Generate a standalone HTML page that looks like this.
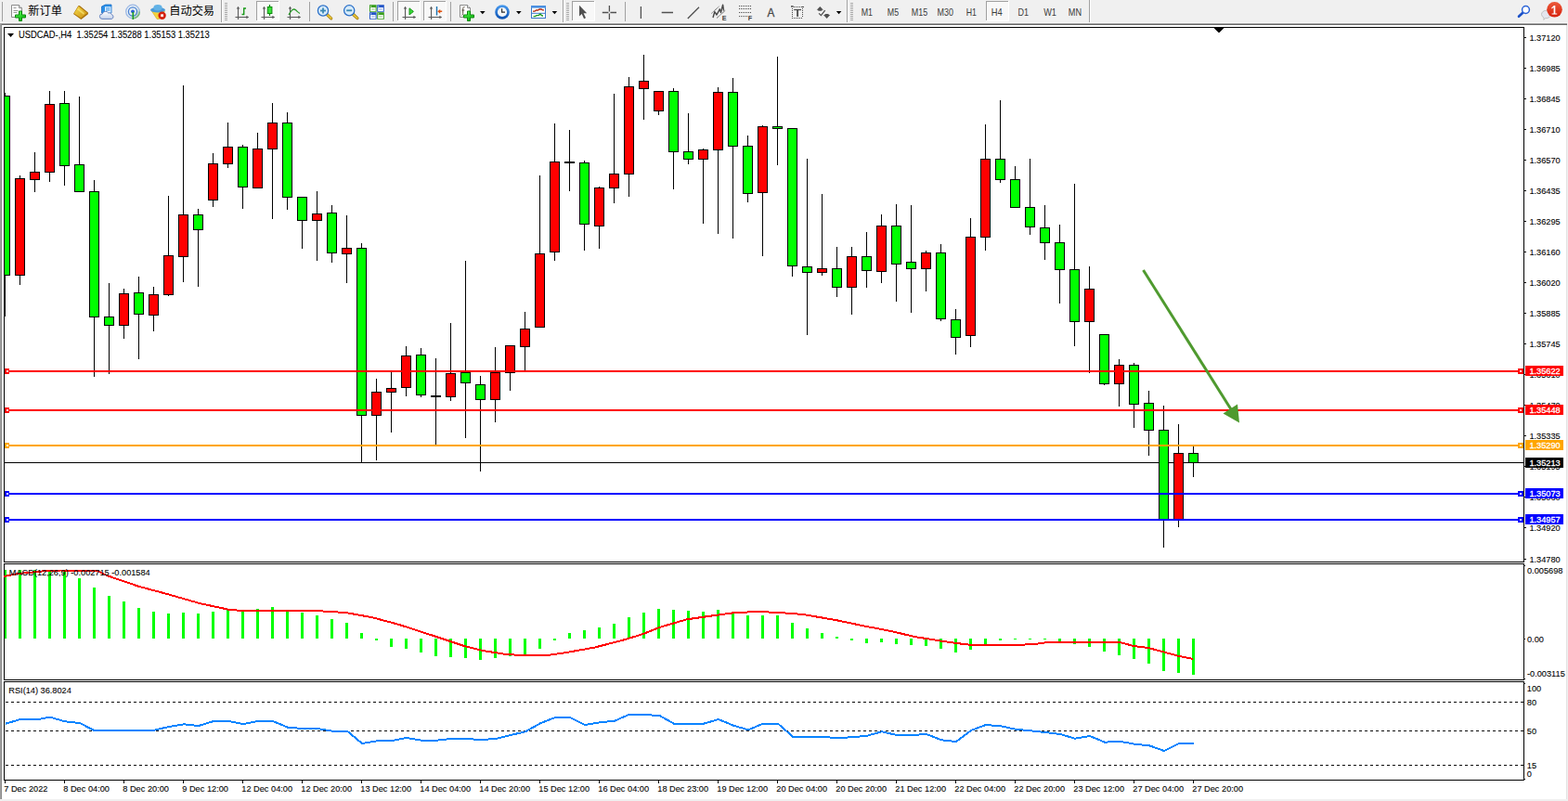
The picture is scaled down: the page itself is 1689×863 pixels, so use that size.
<!DOCTYPE html><html><head><meta charset="utf-8"><title>USDCAD-,H4</title><style>
html,body{margin:0;padding:0;background:#fff;}
body{width:1689px;height:863px;position:relative;overflow:hidden;font-family:"Liberation Sans",sans-serif;}
svg{position:absolute;left:0;top:0;}
text{font-family:"Liberation Sans",sans-serif;}
.t{font-size:9.8px;fill:#000;stroke:#000;stroke-width:.1px;}
.w{font-size:9.8px;fill:#fff;stroke:#fff;stroke-width:.3px;}
.p{font-size:10.2px;fill:#3c3c3c;}
.cj{font-family:"Liberation Sans","Noto Sans CJK SC",sans-serif;font-size:12.2px;fill:#000;}
</style></head><body>
<svg width="1689" height="863" viewBox="0 0 1689 863" shape-rendering="crispEdges">
<rect x="0" y="0" width="1689" height="24" fill="#f0f0f0"/>
<rect x="0" y="24" width="1689" height="1" fill="#f7f7f7"/>
<rect x="0" y="25" width="1689" height="1" fill="#a0a0a0"/>
<rect x="0" y="26" width="1689" height="1" fill="#696969"/>
<rect x="0" y="25" width="2" height="836" fill="#a0a0a0"/>
<rect x="1" y="26" width="1" height="835" fill="#8a8a8a"/>
<rect x="1687" y="27" width="1" height="836" fill="#e3e3e3"/>
<rect x="1688" y="25" width="1" height="838" fill="#f0f0f0"/>
<rect x="0" y="861" width="1689" height="2" fill="#f0f0f0"/>
<rect x="4" y="29" width="1638" height="1" fill="#000"/>
<rect x="4" y="29" width="1" height="577" fill="#000"/>
<rect x="4" y="605" width="1638" height="1" fill="#000"/>
<rect x="1641" y="29" width="1" height="577" fill="#000"/>
<rect x="4" y="607" width="1638" height="1" fill="#000"/>
<rect x="4" y="607" width="1" height="126" fill="#000"/>
<rect x="4" y="732" width="1638" height="1" fill="#000"/>
<rect x="1641" y="607" width="1" height="126" fill="#000"/>
<rect x="4" y="734" width="1638" height="1" fill="#000"/>
<rect x="4" y="734" width="1" height="107" fill="#000"/>
<rect x="4" y="840" width="1638" height="1" fill="#000"/>
<rect x="1641" y="734" width="1" height="107" fill="#000"/>
<rect x="5" y="498" width="1636" height="1" fill="#000"/>
<rect x="1308" y="30" width="10" height="1" fill="#000"/>
<rect x="1309" y="31" width="8" height="1" fill="#000"/>
<rect x="1310" y="32" width="6" height="1" fill="#000"/>
<rect x="1311" y="33" width="4" height="1" fill="#000"/>
<rect x="1312" y="34" width="2" height="1" fill="#000"/>
<rect x="1313" y="35" width="0" height="1" fill="#000"/>
<rect x="5" y="100" width="1" height="241" fill="#000"/>
<rect x="5" y="103" width="6" height="194" fill="#000"/>
<rect x="5" y="104" width="5" height="192" fill="#00ff00"/>
<rect x="21" y="189" width="1" height="118" fill="#000"/>
<rect x="16" y="192" width="11" height="105" fill="#000"/>
<rect x="17" y="193" width="9" height="103" fill="#ff0000"/>
<rect x="37" y="164" width="1" height="43" fill="#000"/>
<rect x="32" y="185" width="11" height="9" fill="#000"/>
<rect x="33" y="186" width="9" height="7" fill="#ff0000"/>
<rect x="53" y="98" width="1" height="98" fill="#000"/>
<rect x="48" y="112" width="11" height="74" fill="#000"/>
<rect x="49" y="113" width="9" height="72" fill="#ff0000"/>
<rect x="69" y="98" width="1" height="102" fill="#000"/>
<rect x="64" y="111" width="11" height="68" fill="#000"/>
<rect x="65" y="112" width="9" height="66" fill="#00ff00"/>
<rect x="85" y="104" width="1" height="103" fill="#000"/>
<rect x="80" y="177" width="11" height="30" fill="#000"/>
<rect x="81" y="178" width="9" height="28" fill="#00ff00"/>
<rect x="101" y="194" width="1" height="212" fill="#000"/>
<rect x="96" y="206" width="11" height="136" fill="#000"/>
<rect x="97" y="207" width="9" height="134" fill="#00ff00"/>
<rect x="117" y="305" width="1" height="98" fill="#000"/>
<rect x="112" y="341" width="11" height="10" fill="#000"/>
<rect x="113" y="342" width="9" height="8" fill="#00ff00"/>
<rect x="133" y="311" width="1" height="54" fill="#000"/>
<rect x="128" y="316" width="11" height="35" fill="#000"/>
<rect x="129" y="317" width="9" height="33" fill="#ff0000"/>
<rect x="149" y="298" width="1" height="89" fill="#000"/>
<rect x="144" y="315" width="11" height="24" fill="#000"/>
<rect x="145" y="316" width="9" height="22" fill="#00ff00"/>
<rect x="165" y="309" width="1" height="48" fill="#000"/>
<rect x="160" y="317" width="11" height="23" fill="#000"/>
<rect x="161" y="318" width="9" height="21" fill="#ff0000"/>
<rect x="181" y="211" width="1" height="108" fill="#000"/>
<rect x="176" y="275" width="11" height="43" fill="#000"/>
<rect x="177" y="276" width="9" height="41" fill="#ff0000"/>
<rect x="197" y="92" width="1" height="212" fill="#000"/>
<rect x="192" y="231" width="11" height="46" fill="#000"/>
<rect x="193" y="232" width="9" height="44" fill="#ff0000"/>
<rect x="213" y="225" width="1" height="84" fill="#000"/>
<rect x="208" y="231" width="11" height="17" fill="#000"/>
<rect x="209" y="232" width="9" height="15" fill="#00ff00"/>
<rect x="229" y="165" width="1" height="58" fill="#000"/>
<rect x="224" y="176" width="11" height="40" fill="#000"/>
<rect x="225" y="177" width="9" height="38" fill="#ff0000"/>
<rect x="245" y="132" width="1" height="49" fill="#000"/>
<rect x="240" y="158" width="11" height="19" fill="#000"/>
<rect x="241" y="159" width="9" height="17" fill="#ff0000"/>
<rect x="261" y="156" width="1" height="69" fill="#000"/>
<rect x="256" y="158" width="11" height="44" fill="#000"/>
<rect x="257" y="159" width="9" height="42" fill="#00ff00"/>
<rect x="277" y="143" width="1" height="60" fill="#000"/>
<rect x="272" y="160" width="11" height="43" fill="#000"/>
<rect x="273" y="161" width="9" height="41" fill="#ff0000"/>
<rect x="293" y="111" width="1" height="125" fill="#000"/>
<rect x="288" y="132" width="11" height="29" fill="#000"/>
<rect x="289" y="133" width="9" height="27" fill="#ff0000"/>
<rect x="309" y="121" width="1" height="105" fill="#000"/>
<rect x="304" y="132" width="11" height="81" fill="#000"/>
<rect x="305" y="133" width="9" height="79" fill="#00ff00"/>
<rect x="325" y="212" width="1" height="56" fill="#000"/>
<rect x="320" y="212" width="11" height="26" fill="#000"/>
<rect x="321" y="213" width="9" height="24" fill="#00ff00"/>
<rect x="341" y="206" width="1" height="75" fill="#000"/>
<rect x="336" y="230" width="11" height="8" fill="#000"/>
<rect x="337" y="231" width="9" height="6" fill="#ff0000"/>
<rect x="357" y="221" width="1" height="62" fill="#000"/>
<rect x="352" y="229" width="11" height="44" fill="#000"/>
<rect x="353" y="230" width="9" height="42" fill="#00ff00"/>
<rect x="373" y="232" width="1" height="73" fill="#000"/>
<rect x="368" y="267" width="11" height="7" fill="#000"/>
<rect x="369" y="268" width="9" height="5" fill="#ff0000"/>
<rect x="389" y="262" width="1" height="237" fill="#000"/>
<rect x="384" y="267" width="11" height="181" fill="#000"/>
<rect x="385" y="268" width="9" height="179" fill="#00ff00"/>
<rect x="405" y="408" width="1" height="88" fill="#000"/>
<rect x="400" y="422" width="11" height="26" fill="#000"/>
<rect x="401" y="423" width="9" height="24" fill="#ff0000"/>
<rect x="421" y="400" width="1" height="66" fill="#000"/>
<rect x="416" y="418" width="11" height="5" fill="#000"/>
<rect x="417" y="419" width="9" height="3" fill="#ff0000"/>
<rect x="437" y="373" width="1" height="54" fill="#000"/>
<rect x="432" y="383" width="11" height="35" fill="#000"/>
<rect x="433" y="384" width="9" height="33" fill="#ff0000"/>
<rect x="453" y="375" width="1" height="53" fill="#000"/>
<rect x="448" y="382" width="11" height="44" fill="#000"/>
<rect x="449" y="383" width="9" height="42" fill="#00ff00"/>
<rect x="469" y="386" width="1" height="93" fill="#000"/>
<rect x="464" y="426" width="11" height="2" fill="#000"/>
<rect x="485" y="348" width="1" height="84" fill="#000"/>
<rect x="480" y="402" width="11" height="26" fill="#000"/>
<rect x="481" y="403" width="9" height="24" fill="#ff0000"/>
<rect x="501" y="281" width="1" height="191" fill="#000"/>
<rect x="496" y="401" width="11" height="12" fill="#000"/>
<rect x="497" y="402" width="9" height="10" fill="#00ff00"/>
<rect x="517" y="405" width="1" height="103" fill="#000"/>
<rect x="512" y="414" width="11" height="17" fill="#000"/>
<rect x="513" y="415" width="9" height="15" fill="#00ff00"/>
<rect x="533" y="374" width="1" height="81" fill="#000"/>
<rect x="528" y="401" width="11" height="30" fill="#000"/>
<rect x="529" y="402" width="9" height="28" fill="#ff0000"/>
<rect x="549" y="372" width="1" height="49" fill="#000"/>
<rect x="544" y="372" width="11" height="30" fill="#000"/>
<rect x="545" y="373" width="9" height="28" fill="#ff0000"/>
<rect x="565" y="336" width="1" height="63" fill="#000"/>
<rect x="560" y="354" width="11" height="20" fill="#000"/>
<rect x="561" y="355" width="9" height="18" fill="#ff0000"/>
<rect x="581" y="189" width="1" height="164" fill="#000"/>
<rect x="576" y="273" width="11" height="80" fill="#000"/>
<rect x="577" y="274" width="9" height="78" fill="#ff0000"/>
<rect x="597" y="133" width="1" height="148" fill="#000"/>
<rect x="592" y="174" width="11" height="98" fill="#000"/>
<rect x="593" y="175" width="9" height="96" fill="#ff0000"/>
<rect x="613" y="140" width="1" height="66" fill="#000"/>
<rect x="608" y="174" width="11" height="2" fill="#000"/>
<rect x="629" y="173" width="1" height="97" fill="#000"/>
<rect x="624" y="175" width="11" height="67" fill="#000"/>
<rect x="625" y="176" width="9" height="65" fill="#00ff00"/>
<rect x="645" y="201" width="1" height="67" fill="#000"/>
<rect x="640" y="202" width="11" height="42" fill="#000"/>
<rect x="641" y="203" width="9" height="40" fill="#ff0000"/>
<rect x="661" y="101" width="1" height="118" fill="#000"/>
<rect x="656" y="187" width="11" height="16" fill="#000"/>
<rect x="657" y="188" width="9" height="14" fill="#ff0000"/>
<rect x="677" y="83" width="1" height="129" fill="#000"/>
<rect x="672" y="93" width="11" height="95" fill="#000"/>
<rect x="673" y="94" width="9" height="93" fill="#ff0000"/>
<rect x="693" y="59" width="1" height="70" fill="#000"/>
<rect x="688" y="87" width="11" height="9" fill="#000"/>
<rect x="689" y="88" width="9" height="7" fill="#ff0000"/>
<rect x="709" y="98" width="1" height="26" fill="#000"/>
<rect x="704" y="98" width="11" height="22" fill="#000"/>
<rect x="705" y="99" width="9" height="20" fill="#ff0000"/>
<rect x="725" y="95" width="1" height="109" fill="#000"/>
<rect x="720" y="98" width="11" height="66" fill="#000"/>
<rect x="721" y="99" width="9" height="64" fill="#00ff00"/>
<rect x="741" y="122" width="1" height="55" fill="#000"/>
<rect x="736" y="163" width="11" height="9" fill="#000"/>
<rect x="737" y="164" width="9" height="7" fill="#00ff00"/>
<rect x="757" y="160" width="1" height="81" fill="#000"/>
<rect x="752" y="161" width="11" height="11" fill="#000"/>
<rect x="753" y="162" width="9" height="9" fill="#ff0000"/>
<rect x="773" y="94" width="1" height="158" fill="#000"/>
<rect x="768" y="99" width="11" height="63" fill="#000"/>
<rect x="769" y="100" width="9" height="61" fill="#ff0000"/>
<rect x="789" y="84" width="1" height="173" fill="#000"/>
<rect x="784" y="99" width="11" height="59" fill="#000"/>
<rect x="785" y="100" width="9" height="57" fill="#00ff00"/>
<rect x="805" y="146" width="1" height="72" fill="#000"/>
<rect x="800" y="157" width="11" height="52" fill="#000"/>
<rect x="801" y="158" width="9" height="50" fill="#00ff00"/>
<rect x="821" y="135" width="1" height="141" fill="#000"/>
<rect x="816" y="136" width="11" height="72" fill="#000"/>
<rect x="817" y="137" width="9" height="70" fill="#ff0000"/>
<rect x="837" y="61" width="1" height="117" fill="#000"/>
<rect x="832" y="136" width="11" height="3" fill="#000"/>
<rect x="833" y="137" width="9" height="1" fill="#00ff00"/>
<rect x="853" y="138" width="1" height="160" fill="#000"/>
<rect x="848" y="138" width="11" height="149" fill="#000"/>
<rect x="849" y="139" width="9" height="147" fill="#00ff00"/>
<rect x="869" y="171" width="1" height="190" fill="#000"/>
<rect x="864" y="287" width="11" height="7" fill="#000"/>
<rect x="865" y="288" width="9" height="5" fill="#00ff00"/>
<rect x="885" y="209" width="1" height="88" fill="#000"/>
<rect x="880" y="289" width="11" height="5" fill="#000"/>
<rect x="881" y="290" width="9" height="3" fill="#ff0000"/>
<rect x="901" y="266" width="1" height="54" fill="#000"/>
<rect x="896" y="289" width="11" height="21" fill="#000"/>
<rect x="897" y="290" width="9" height="19" fill="#00ff00"/>
<rect x="917" y="266" width="1" height="73" fill="#000"/>
<rect x="912" y="276" width="11" height="34" fill="#000"/>
<rect x="913" y="277" width="9" height="32" fill="#ff0000"/>
<rect x="933" y="250" width="1" height="60" fill="#000"/>
<rect x="928" y="276" width="11" height="16" fill="#000"/>
<rect x="929" y="277" width="9" height="14" fill="#00ff00"/>
<rect x="949" y="231" width="1" height="74" fill="#000"/>
<rect x="944" y="243" width="11" height="50" fill="#000"/>
<rect x="945" y="244" width="9" height="48" fill="#ff0000"/>
<rect x="965" y="220" width="1" height="105" fill="#000"/>
<rect x="960" y="243" width="11" height="42" fill="#000"/>
<rect x="961" y="244" width="9" height="40" fill="#00ff00"/>
<rect x="981" y="221" width="1" height="116" fill="#000"/>
<rect x="976" y="282" width="11" height="8" fill="#000"/>
<rect x="977" y="283" width="9" height="6" fill="#00ff00"/>
<rect x="997" y="270" width="1" height="44" fill="#000"/>
<rect x="992" y="272" width="11" height="18" fill="#000"/>
<rect x="993" y="273" width="9" height="16" fill="#ff0000"/>
<rect x="1013" y="263" width="1" height="83" fill="#000"/>
<rect x="1008" y="272" width="11" height="72" fill="#000"/>
<rect x="1009" y="273" width="9" height="70" fill="#00ff00"/>
<rect x="1029" y="333" width="1" height="49" fill="#000"/>
<rect x="1024" y="344" width="11" height="20" fill="#000"/>
<rect x="1025" y="345" width="9" height="18" fill="#00ff00"/>
<rect x="1045" y="235" width="1" height="139" fill="#000"/>
<rect x="1040" y="255" width="11" height="107" fill="#000"/>
<rect x="1041" y="256" width="9" height="105" fill="#ff0000"/>
<rect x="1061" y="134" width="1" height="136" fill="#000"/>
<rect x="1056" y="171" width="11" height="85" fill="#000"/>
<rect x="1057" y="172" width="9" height="83" fill="#ff0000"/>
<rect x="1077" y="108" width="1" height="89" fill="#000"/>
<rect x="1072" y="171" width="11" height="23" fill="#000"/>
<rect x="1073" y="172" width="9" height="21" fill="#00ff00"/>
<rect x="1093" y="179" width="1" height="45" fill="#000"/>
<rect x="1088" y="193" width="11" height="31" fill="#000"/>
<rect x="1089" y="194" width="9" height="29" fill="#00ff00"/>
<rect x="1109" y="171" width="1" height="82" fill="#000"/>
<rect x="1104" y="223" width="11" height="22" fill="#000"/>
<rect x="1105" y="224" width="9" height="20" fill="#00ff00"/>
<rect x="1125" y="221" width="1" height="59" fill="#000"/>
<rect x="1120" y="245" width="11" height="17" fill="#000"/>
<rect x="1121" y="246" width="9" height="15" fill="#00ff00"/>
<rect x="1141" y="242" width="1" height="85" fill="#000"/>
<rect x="1136" y="261" width="11" height="30" fill="#000"/>
<rect x="1137" y="262" width="9" height="28" fill="#00ff00"/>
<rect x="1157" y="198" width="1" height="175" fill="#000"/>
<rect x="1152" y="290" width="11" height="57" fill="#000"/>
<rect x="1153" y="291" width="9" height="55" fill="#00ff00"/>
<rect x="1173" y="287" width="1" height="115" fill="#000"/>
<rect x="1168" y="311" width="11" height="36" fill="#000"/>
<rect x="1169" y="312" width="9" height="34" fill="#ff0000"/>
<rect x="1189" y="360" width="1" height="55" fill="#000"/>
<rect x="1184" y="360" width="11" height="54" fill="#000"/>
<rect x="1185" y="361" width="9" height="52" fill="#00ff00"/>
<rect x="1205" y="387" width="1" height="51" fill="#000"/>
<rect x="1200" y="393" width="11" height="21" fill="#000"/>
<rect x="1201" y="394" width="9" height="19" fill="#ff0000"/>
<rect x="1221" y="391" width="1" height="70" fill="#000"/>
<rect x="1216" y="393" width="11" height="43" fill="#000"/>
<rect x="1217" y="394" width="9" height="41" fill="#00ff00"/>
<rect x="1237" y="421" width="1" height="70" fill="#000"/>
<rect x="1232" y="434" width="11" height="30" fill="#000"/>
<rect x="1233" y="435" width="9" height="28" fill="#00ff00"/>
<rect x="1253" y="437" width="1" height="153" fill="#000"/>
<rect x="1248" y="463" width="11" height="97" fill="#000"/>
<rect x="1249" y="464" width="9" height="95" fill="#00ff00"/>
<rect x="1269" y="457" width="1" height="111" fill="#000"/>
<rect x="1264" y="488" width="11" height="72" fill="#000"/>
<rect x="1265" y="489" width="9" height="70" fill="#ff0000"/>
<rect x="1285" y="481" width="1" height="33" fill="#000"/>
<rect x="1280" y="488" width="11" height="11" fill="#000"/>
<rect x="1281" y="489" width="9" height="9" fill="#00ff00"/>
<rect x="5" y="399" width="1636" height="2" fill="#ff0000"/>
<rect x="5" y="397" width="5" height="6" fill="#ff0000"/><rect x="7" y="399" width="2" height="2" fill="#fff"/>
<rect x="1635" y="397" width="6" height="6" fill="#ff0000"/><rect x="1637" y="399" width="2" height="2" fill="#fff"/>
<rect x="5" y="441" width="1636" height="2" fill="#ff0000"/>
<rect x="5" y="439" width="5" height="6" fill="#ff0000"/><rect x="7" y="441" width="2" height="2" fill="#fff"/>
<rect x="1635" y="439" width="6" height="6" fill="#ff0000"/><rect x="1637" y="441" width="2" height="2" fill="#fff"/>
<rect x="5" y="479" width="1636" height="2" fill="#ffa500"/>
<rect x="5" y="477" width="5" height="6" fill="#ffa500"/><rect x="7" y="479" width="2" height="2" fill="#fff"/>
<rect x="1635" y="477" width="6" height="6" fill="#ffa500"/><rect x="1637" y="479" width="2" height="2" fill="#fff"/>
<rect x="5" y="531" width="1636" height="2" fill="#0000ff"/>
<rect x="5" y="529" width="5" height="6" fill="#0000ff"/><rect x="7" y="531" width="2" height="2" fill="#fff"/>
<rect x="1635" y="529" width="6" height="6" fill="#0000ff"/><rect x="1637" y="531" width="2" height="2" fill="#fff"/>
<rect x="5" y="559" width="1636" height="2" fill="#0000ff"/>
<rect x="5" y="557" width="5" height="6" fill="#0000ff"/><rect x="7" y="559" width="2" height="2" fill="#fff"/>
<rect x="1635" y="557" width="6" height="6" fill="#0000ff"/><rect x="1637" y="559" width="2" height="2" fill="#fff"/>
<rect x="5" y="614" width="2" height="74" fill="#00ff00"/>
<rect x="20" y="614" width="3" height="74" fill="#00ff00"/>
<rect x="36" y="614" width="3" height="74" fill="#00ff00"/>
<rect x="52" y="614" width="3" height="74" fill="#00ff00"/>
<rect x="68" y="615" width="3" height="73" fill="#00ff00"/>
<rect x="84" y="623" width="3" height="65" fill="#00ff00"/>
<rect x="100" y="633" width="3" height="55" fill="#00ff00"/>
<rect x="116" y="642" width="3" height="46" fill="#00ff00"/>
<rect x="132" y="648" width="3" height="40" fill="#00ff00"/>
<rect x="148" y="655" width="3" height="33" fill="#00ff00"/>
<rect x="164" y="659" width="3" height="29" fill="#00ff00"/>
<rect x="180" y="661" width="3" height="27" fill="#00ff00"/>
<rect x="196" y="660" width="3" height="28" fill="#00ff00"/>
<rect x="212" y="661" width="3" height="27" fill="#00ff00"/>
<rect x="228" y="659" width="3" height="29" fill="#00ff00"/>
<rect x="244" y="657" width="3" height="31" fill="#00ff00"/>
<rect x="260" y="657" width="3" height="31" fill="#00ff00"/>
<rect x="276" y="656" width="3" height="32" fill="#00ff00"/>
<rect x="292" y="654" width="3" height="34" fill="#00ff00"/>
<rect x="308" y="658" width="3" height="30" fill="#00ff00"/>
<rect x="324" y="660" width="3" height="28" fill="#00ff00"/>
<rect x="340" y="663" width="3" height="25" fill="#00ff00"/>
<rect x="356" y="667" width="3" height="21" fill="#00ff00"/>
<rect x="372" y="671" width="3" height="17" fill="#00ff00"/>
<rect x="388" y="682" width="3" height="6" fill="#00ff00"/>
<rect x="404" y="688" width="3" height="2" fill="#00ff00"/>
<rect x="420" y="688" width="3" height="9" fill="#00ff00"/>
<rect x="436" y="688" width="3" height="11" fill="#00ff00"/>
<rect x="452" y="688" width="3" height="15" fill="#00ff00"/>
<rect x="468" y="688" width="3" height="19" fill="#00ff00"/>
<rect x="484" y="688" width="3" height="20" fill="#00ff00"/>
<rect x="500" y="688" width="3" height="21" fill="#00ff00"/>
<rect x="516" y="688" width="3" height="23" fill="#00ff00"/>
<rect x="532" y="688" width="3" height="21" fill="#00ff00"/>
<rect x="548" y="688" width="3" height="19" fill="#00ff00"/>
<rect x="564" y="688" width="3" height="17" fill="#00ff00"/>
<rect x="580" y="688" width="3" height="11" fill="#00ff00"/>
<rect x="596" y="688" width="3" height="2" fill="#00ff00"/>
<rect x="612" y="682" width="3" height="6" fill="#00ff00"/>
<rect x="628" y="679" width="3" height="9" fill="#00ff00"/>
<rect x="644" y="676" width="3" height="12" fill="#00ff00"/>
<rect x="660" y="672" width="3" height="16" fill="#00ff00"/>
<rect x="676" y="665" width="3" height="23" fill="#00ff00"/>
<rect x="692" y="660" width="3" height="28" fill="#00ff00"/>
<rect x="708" y="656" width="3" height="32" fill="#00ff00"/>
<rect x="724" y="657" width="3" height="31" fill="#00ff00"/>
<rect x="740" y="658" width="3" height="30" fill="#00ff00"/>
<rect x="756" y="659" width="3" height="29" fill="#00ff00"/>
<rect x="772" y="657" width="3" height="31" fill="#00ff00"/>
<rect x="788" y="659" width="3" height="29" fill="#00ff00"/>
<rect x="804" y="663" width="3" height="25" fill="#00ff00"/>
<rect x="820" y="663" width="3" height="25" fill="#00ff00"/>
<rect x="836" y="663" width="3" height="25" fill="#00ff00"/>
<rect x="852" y="671" width="3" height="17" fill="#00ff00"/>
<rect x="868" y="677" width="3" height="11" fill="#00ff00"/>
<rect x="884" y="682" width="3" height="6" fill="#00ff00"/>
<rect x="900" y="686" width="3" height="2" fill="#00ff00"/>
<rect x="916" y="688" width="3" height="2" fill="#00ff00"/>
<rect x="932" y="688" width="3" height="5" fill="#00ff00"/>
<rect x="948" y="688" width="3" height="4" fill="#00ff00"/>
<rect x="964" y="688" width="3" height="6" fill="#00ff00"/>
<rect x="980" y="688" width="3" height="7" fill="#00ff00"/>
<rect x="996" y="688" width="3" height="8" fill="#00ff00"/>
<rect x="1012" y="688" width="3" height="11" fill="#00ff00"/>
<rect x="1028" y="688" width="3" height="15" fill="#00ff00"/>
<rect x="1044" y="688" width="3" height="12" fill="#00ff00"/>
<rect x="1060" y="688" width="3" height="6" fill="#00ff00"/>
<rect x="1076" y="688" width="3" height="2" fill="#00ff00"/>
<rect x="1092" y="688" width="3" height="1" fill="#00ff00"/>
<rect x="1108" y="688" width="3" height="1" fill="#00ff00"/>
<rect x="1124" y="688" width="3" height="1" fill="#00ff00"/>
<rect x="1140" y="688" width="3" height="3" fill="#00ff00"/>
<rect x="1156" y="688" width="3" height="6" fill="#00ff00"/>
<rect x="1172" y="688" width="3" height="9" fill="#00ff00"/>
<rect x="1188" y="688" width="3" height="14" fill="#00ff00"/>
<rect x="1204" y="688" width="3" height="18" fill="#00ff00"/>
<rect x="1220" y="688" width="3" height="22" fill="#00ff00"/>
<rect x="1236" y="688" width="3" height="27" fill="#00ff00"/>
<rect x="1252" y="688" width="3" height="35" fill="#00ff00"/>
<rect x="1268" y="688" width="3" height="37" fill="#00ff00"/>
<rect x="1284" y="688" width="3" height="39" fill="#00ff00"/>
<polyline points="4,621 20,618 50,615 65,614.5 105,615 115,620 150,632 180,640 215,650 245,656.5 260,658 340,658 372,660 400,665 430,673 470,686 500,696 520,701 545,705 563,706 590,706 610,703 640,697.7 670,690 693,683 710,676 740,667.3 770,663 790,660.3 815,659 840,660 865,662 900,668 930,674.3 960,680 985,686 1010,690 1030,693 1045,694.7 1100,694.7 1115,694 1126,692.3 1160,691.7 1205,691.7 1221,696 1237,698 1253,702.3 1269,706.7 1285,710" fill="none" stroke="#ff0000" stroke-width="2" stroke-linejoin="round"/>
<line x1="6" y1="756.5" x2="1641" y2="756.5" stroke="#000" stroke-width="1" stroke-dasharray="3,3"/>
<line x1="6" y1="787.5" x2="1641" y2="787.5" stroke="#000" stroke-width="1" stroke-dasharray="3,3"/>
<line x1="6" y1="824.5" x2="1641" y2="824.5" stroke="#000" stroke-width="1" stroke-dasharray="3,3"/>
<polyline points="6,779.7 22,775 38,775.5 54,772.7 70,777.3 86,779 102,787.3 118,787.3 134,786.7 150,786.7 166,786.7 182,783 198,780.3 214,782 230,777 246,777 262,780 278,777 294,777 310,783.7 326,785 342,785 358,787.7 374,787.7 390,801 406,798.3 422,798 438,795 454,797.7 470,797.7 486,796 502,796 518,797 534,796 550,792 566,788.3 582,779.3 598,773 614,773 630,781 646,778.3 662,776.7 678,769.7 694,770.3 710,770.7 726,779.7 742,779.7 758,779.7 774,775 790,781.7 806,786.3 822,779.7 838,779.7 854,793.7 870,794 886,794 902,795 918,794.3 934,792.7 950,788.3 966,792 982,792 998,791 1014,797.3 1030,799 1046,787 1062,781 1078,782.3 1094,785.7 1110,787.3 1126,789 1142,791 1158,795.7 1174,793 1190,799.7 1206,798.7 1222,801.7 1238,803.3 1254,809 1270,801 1286,801" fill="none" stroke="#0a84ff" stroke-width="2" stroke-linejoin="round"/>
<rect x="1642" y="40" width="2" height="1" fill="#000"/>
<rect x="1642" y="73" width="2" height="1" fill="#000"/>
<rect x="1642" y="106" width="2" height="1" fill="#000"/>
<rect x="1642" y="139" width="2" height="1" fill="#000"/>
<rect x="1642" y="172" width="2" height="1" fill="#000"/>
<rect x="1642" y="205" width="2" height="1" fill="#000"/>
<rect x="1642" y="238" width="2" height="1" fill="#000"/>
<rect x="1642" y="271" width="2" height="1" fill="#000"/>
<rect x="1642" y="304" width="2" height="1" fill="#000"/>
<rect x="1642" y="337" width="2" height="1" fill="#000"/>
<rect x="1642" y="370" width="2" height="1" fill="#000"/>
<rect x="1642" y="403" width="2" height="1" fill="#000"/>
<rect x="1642" y="436" width="2" height="1" fill="#000"/>
<rect x="1642" y="469" width="2" height="1" fill="#000"/>
<rect x="1642" y="502" width="2" height="1" fill="#000"/>
<rect x="1642" y="535" width="2" height="1" fill="#000"/>
<rect x="1642" y="568" width="2" height="1" fill="#000"/>
<rect x="1642" y="602" width="2" height="1" fill="#000"/>
<rect x="5" y="841" width="1" height="3" fill="#000"/>
<rect x="69" y="841" width="1" height="3" fill="#000"/>
<rect x="133" y="841" width="1" height="3" fill="#000"/>
<rect x="197" y="841" width="1" height="3" fill="#000"/>
<rect x="261" y="841" width="1" height="3" fill="#000"/>
<rect x="325" y="841" width="1" height="3" fill="#000"/>
<rect x="389" y="841" width="1" height="3" fill="#000"/>
<rect x="453" y="841" width="1" height="3" fill="#000"/>
<rect x="517" y="841" width="1" height="3" fill="#000"/>
<rect x="581" y="841" width="1" height="3" fill="#000"/>
<rect x="645" y="841" width="1" height="3" fill="#000"/>
<rect x="709" y="841" width="1" height="3" fill="#000"/>
<rect x="773" y="841" width="1" height="3" fill="#000"/>
<rect x="837" y="841" width="1" height="3" fill="#000"/>
<rect x="901" y="841" width="1" height="3" fill="#000"/>
<rect x="965" y="841" width="1" height="3" fill="#000"/>
<rect x="1029" y="841" width="1" height="3" fill="#000"/>
<rect x="1093" y="841" width="1" height="3" fill="#000"/>
<rect x="1157" y="841" width="1" height="3" fill="#000"/>
<rect x="1221" y="841" width="1" height="3" fill="#000"/>
<rect x="1285" y="841" width="1" height="3" fill="#000"/>
<rect x="1642" y="609" width="1" height="1" fill="#000"/>
<rect x="1642" y="688" width="1" height="1" fill="#000"/>
<rect x="1642" y="731" width="1" height="1" fill="#000"/>
<rect x="1642" y="736" width="1" height="1" fill="#000"/>
<rect x="1642" y="839" width="1" height="1" fill="#000"/>
</svg>
<svg width="1689" height="863" viewBox="0 0 1689 863">
<line x1="1231.5" y1="291" x2="1326" y2="441" stroke="#4f9a2f" stroke-width="3"/>
<polygon points="1335,455.5 1317.5,445.5 1333,435.5" fill="#4f9a2f"/>
<polygon points="8,36 15,36 11.5,40" fill="#000"/>
<text transform="translate(20,40.8) scale(0.91,1)" class="t" style="font-size:10.3px" textLength="226" lengthAdjust="spacingAndGlyphs">USDCAD-,H4&#160; 1.35254 1.35288 1.35153 1.35213</text>
<text transform="translate(9.8,619.7) scale(0.94,1)" class="t" >MACD(12,26,9) -0.002715 -0.001584</text>
<text transform="translate(9.3,746.7) scale(0.94,1)" class="t" >RSI(14) 36.8024</text>
<text transform="translate(1647.4,44) scale(0.94,1)" class="t" >1.37120</text>
<text transform="translate(1647.4,77) scale(0.94,1)" class="t" >1.36985</text>
<text transform="translate(1647.4,110) scale(0.94,1)" class="t" >1.36845</text>
<text transform="translate(1647.4,143) scale(0.94,1)" class="t" >1.36710</text>
<text transform="translate(1647.4,176) scale(0.94,1)" class="t" >1.36570</text>
<text transform="translate(1647.4,209) scale(0.94,1)" class="t" >1.36435</text>
<text transform="translate(1647.4,242) scale(0.94,1)" class="t" >1.36295</text>
<text transform="translate(1647.4,275) scale(0.94,1)" class="t" >1.36160</text>
<text transform="translate(1647.4,308) scale(0.94,1)" class="t" >1.36020</text>
<text transform="translate(1647.4,341) scale(0.94,1)" class="t" >1.35885</text>
<text transform="translate(1647.4,374) scale(0.94,1)" class="t" >1.35745</text>
<text transform="translate(1647.4,407) scale(0.94,1)" class="t" >1.35610</text>
<text transform="translate(1647.4,440) scale(0.94,1)" class="t" >1.35470</text>
<text transform="translate(1647.4,473) scale(0.94,1)" class="t" >1.35335</text>
<text transform="translate(1647.4,506) scale(0.94,1)" class="t" >1.35195</text>
<text transform="translate(1647.4,539) scale(0.94,1)" class="t" >1.35060</text>
<text transform="translate(1647.4,572) scale(0.94,1)" class="t" >1.34920</text>
<text transform="translate(1647.4,606) scale(0.94,1)" class="t" >1.34780</text>
<text transform="translate(1645,618) scale(0.94,1)" class="t" >0.005698</text>
<text transform="translate(1645,692) scale(0.94,1)" class="t" >0.00</text>
<text transform="translate(1645,729) scale(0.94,1)" class="t" >-0.003115</text>
<text transform="translate(1644.8,745) scale(0.94,1)" class="t" >100</text>
<text transform="translate(1644.8,760) scale(0.94,1)" class="t" >80</text>
<text transform="translate(1644.8,791) scale(0.94,1)" class="t" >50</text>
<text transform="translate(1644.8,828) scale(0.94,1)" class="t" >15</text>
<text transform="translate(1644.8,837) scale(0.94,1)" class="t" >0</text>
<rect x="1643" y="394" width="41" height="11" fill="#ff0000" shape-rendering="crispEdges"/>
<text transform="translate(1647.4,403) scale(0.94,1)" class="w" >1.35622</text>
<rect x="1643" y="436" width="41" height="11" fill="#ff0000" shape-rendering="crispEdges"/>
<text transform="translate(1647.4,445) scale(0.94,1)" class="w" >1.35448</text>
<rect x="1643" y="474" width="41" height="11" fill="#ffa500" shape-rendering="crispEdges"/>
<text transform="translate(1647.4,483) scale(0.94,1)" class="w" >1.35290</text>
<rect x="1643" y="493" width="41" height="11" fill="#000" shape-rendering="crispEdges"/>
<text transform="translate(1647.4,502) scale(0.94,1)" class="w" >1.35213</text>
<rect x="1643" y="526" width="41" height="11" fill="#0000ff" shape-rendering="crispEdges"/>
<text transform="translate(1647.4,535) scale(0.94,1)" class="w" >1.35073</text>
<rect x="1643" y="554" width="41" height="11" fill="#0000ff" shape-rendering="crispEdges"/>
<text transform="translate(1647.4,563) scale(0.94,1)" class="w" >1.34957</text>
<text transform="translate(4.3,853) scale(0.94,1)" class="t" >7 Dec 2022</text>
<text transform="translate(68.3,853) scale(0.94,1)" class="t" >8 Dec 04:00</text>
<text transform="translate(132.3,853) scale(0.94,1)" class="t" >8 Dec 20:00</text>
<text transform="translate(196.3,853) scale(0.94,1)" class="t" >9 Dec 12:00</text>
<text transform="translate(260.3,853) scale(0.94,1)" class="t" >12 Dec 04:00</text>
<text transform="translate(324.3,853) scale(0.94,1)" class="t" >12 Dec 20:00</text>
<text transform="translate(388.3,853) scale(0.94,1)" class="t" >13 Dec 12:00</text>
<text transform="translate(452.3,853) scale(0.94,1)" class="t" >14 Dec 04:00</text>
<text transform="translate(516.3,853) scale(0.94,1)" class="t" >14 Dec 20:00</text>
<text transform="translate(580.3,853) scale(0.94,1)" class="t" >15 Dec 12:00</text>
<text transform="translate(644.3,853) scale(0.94,1)" class="t" >16 Dec 04:00</text>
<text transform="translate(708.3,853) scale(0.94,1)" class="t" >18 Dec 23:00</text>
<text transform="translate(772.3,853) scale(0.94,1)" class="t" >19 Dec 12:00</text>
<text transform="translate(836.3,853) scale(0.94,1)" class="t" >20 Dec 04:00</text>
<text transform="translate(900.3,853) scale(0.94,1)" class="t" >20 Dec 20:00</text>
<text transform="translate(964.3,853) scale(0.94,1)" class="t" >21 Dec 12:00</text>
<text transform="translate(1028.3,853) scale(0.94,1)" class="t" >22 Dec 04:00</text>
<text transform="translate(1092.3,853) scale(0.94,1)" class="t" >22 Dec 20:00</text>
<text transform="translate(1156.3,853) scale(0.94,1)" class="t" >23 Dec 12:00</text>
<text transform="translate(1220.3,853) scale(0.94,1)" class="t" >27 Dec 04:00</text>
<text transform="translate(1284.3,853) scale(0.94,1)" class="t" >27 Dec 20:00</text>
</svg>
<svg width="1689" height="25" viewBox="0 0 1689 25">
<rect x="2" y="2" width="1" height="21" fill="#a0a0a0" shape-rendering="crispEdges"/>
<defs><linearGradient id="pl" x1="0" y1="0" x2=".6" y2="1"><stop offset="0" stop-color="#66ff66"/><stop offset="1" stop-color="#08b808"/></linearGradient></defs>
<path d="M12.5 5.5h8l3 3v10h-11z" fill="#fff" stroke="#8c8c8c" stroke-width="1"/><path d="M20.5 5.5v3h3" fill="#e8e8e8" stroke="#8c8c8c" stroke-width="1"/><path d="M14.5 8.5h3M14.5 11.5h5M14.5 13.5h4" stroke="#9a9a9a" stroke-width="1"/>
<path d="M20.5 12h3v4h4v3h-4v3.5h-3v-3.5h-4v-3h4z" fill="url(#pl)" stroke="#0a860a" stroke-width="1"/>
<text x="30.3" y="16.05" class="cj">新订单</text>
<defs><linearGradient id="gd" x1="0" y1="0" x2="1" y2="1"><stop offset="0" stop-color="#f7dc4a"/><stop offset="1" stop-color="#c98f12"/></linearGradient></defs>
<path d="M84.3 6.2Q85.2 5.6 86 6.3L94.9 13.6V15.2L87.4 21L79 15z" fill="#a8700c"/><path d="M84.6 6.8L94 13.9L87.2 19.4L79.8 14.6z" fill="url(#gd)"/><path d="M83.5 9.5L90.5 15" stroke="#fbe878" stroke-width="1.6" opacity=".7"/>
<path d="M109.5 7l4-2h6.5v9h-10.5z" fill="#2a8fe6" stroke="#1a6fc8" stroke-width=".8"/><rect x="113" y="7.3" width="6.5" height="6.5" fill="#e8f4ff"/><path d="M114 9h4.5M114 11h4.5" stroke="#2a8fe6" stroke-width="1"/>
<defs><linearGradient id="cl" x1="0" y1="0" x2="0" y2="1"><stop offset="0" stop-color="#ffffff"/><stop offset="1" stop-color="#c4d2ea"/></linearGradient></defs><path d="M110 20.4a2.7 2.7 0 0 1 .2-5.4a3.6 3.4 0 0 1 6.6-1a2.4 2.4 0 0 1 3.3 1.6a2.5 2.5 0 0 1 .2 4.8z" fill="url(#cl)" stroke="#6a86c0" stroke-width="1"/>
<defs><linearGradient id="sg" x1="0" y1="0" x2="1" y2="1"><stop offset="0" stop-color="#eef4fc"/><stop offset=".55" stop-color="#e4eef0"/><stop offset="1" stop-color="#9ccc9c"/></linearGradient></defs><circle cx="143" cy="12.7" r="7.6" fill="url(#sg)"/><g fill="none"><circle cx="143" cy="12.5" r="7.3" stroke="#9db8e4" stroke-width="1.3"/><circle cx="143" cy="12.5" r="4.6" stroke="#4a80d4" stroke-width="1.3"/><path d="M143 19.8a7.3 7.3 0 0 0 7.3-7.3" stroke="#7ab87a" stroke-width="1.4"/></g><circle cx="143" cy="12.3" r="1.9" fill="#2a5fd0"/><path d="M143.3 13v8" stroke="#1e9e1e" stroke-width="1.6"/>
<path d="M163.5 12h14l-6 8.5h-2.5z" fill="#f3d23c" stroke="#d0a820" stroke-width=".6"/><ellipse cx="170" cy="10.8" rx="8" ry="2.8" fill="#4a9ad8"/><ellipse cx="170" cy="8.3" rx="4.6" ry="3.2" fill="#62b2e6"/><circle cx="174.6" cy="16.7" r="4.2" fill="#d4200e"/><rect x="173.2" y="15.3" width="2.8" height="2.8" fill="#fff"/>
<text x="182.3" y="16.05" class="cj">自动交易</text>
<rect x="238" y="0" width="1" height="24" fill="#a0a0a0" shape-rendering="crispEdges"/><rect x="239" y="0" width="1" height="24" fill="#fff" shape-rendering="crispEdges"/>
<rect x="242" y="3" width="3" height="1" fill="#a8a8a8" shape-rendering="crispEdges"/>
<rect x="242" y="5" width="3" height="1" fill="#a8a8a8" shape-rendering="crispEdges"/>
<rect x="242" y="7" width="3" height="1" fill="#a8a8a8" shape-rendering="crispEdges"/>
<rect x="242" y="9" width="3" height="1" fill="#a8a8a8" shape-rendering="crispEdges"/>
<rect x="242" y="11" width="3" height="1" fill="#a8a8a8" shape-rendering="crispEdges"/>
<rect x="242" y="13" width="3" height="1" fill="#a8a8a8" shape-rendering="crispEdges"/>
<rect x="242" y="15" width="3" height="1" fill="#a8a8a8" shape-rendering="crispEdges"/>
<rect x="242" y="17" width="3" height="1" fill="#a8a8a8" shape-rendering="crispEdges"/>
<rect x="242" y="19" width="3" height="1" fill="#a8a8a8" shape-rendering="crispEdges"/>
<rect x="242" y="21" width="3" height="1" fill="#a8a8a8" shape-rendering="crispEdges"/>
<g stroke="#585858" stroke-width="1.05" fill="none"><path d="M256.5 21V7.6M253.5 18.5H267.5"/></g>
<path d="M256.5 6.9l-1.8 2.6h3.6zM268 18.5l-2.6-1.8v3.6z" fill="#585858"/>
<path d="M260.5 15.5h2.2v-6.5h2.3" fill="none" stroke="#1a9a1a" stroke-width="1.4"/>
<g shape-rendering="crispEdges"><rect x="276" y="1" width="25" height="22" fill="#f8f8f8"/><rect x="276" y="1" width="25" height="1" fill="#a0a0a0"/><rect x="276" y="1" width="1" height="22" fill="#a0a0a0"/><rect x="276" y="22" width="25" height="1" fill="#fff"/><rect x="300" y="1" width="1" height="22" fill="#fff"/></g>
<g stroke="#585858" stroke-width="1.05" fill="none"><path d="M284.5 21V7.6M281.5 18.5H295.5"/></g>
<path d="M284.5 6.9l-1.8 2.6h3.6zM296 18.5l-2.6-1.8v3.6z" fill="#585858"/>
<path d="M290.5 5v12" stroke="#0a8a0a" stroke-width="1.2"/><rect x="288.3" y="7.5" width="4.6" height="7" fill="#3ae23a" stroke="#0a8a0a" stroke-width="1"/>
<g stroke="#585858" stroke-width="1.05" fill="none"><path d="M312.5 21V7.6M309.5 18.5H323.5"/></g>
<path d="M312.5 6.9l-1.8 2.6h3.6zM324 18.5l-2.6-1.8v3.6z" fill="#585858"/>
<path d="M311 16C314 10 316.5 9 318.5 10.8S321.5 14 323 14.3" fill="none" stroke="#2a9a2a" stroke-width="1.3"/>
<rect x="333" y="2" width="1" height="21" fill="#a0a0a0" shape-rendering="crispEdges"/>
<path d="M352.3 15.7l4.4 4.1" stroke="#9a7410" stroke-width="3.2" stroke-linecap="round"/><path d="M352.3 15.7l4.4 4.1" stroke="#e6c230" stroke-width="1.9" stroke-linecap="round"/>
<circle cx="348" cy="11.5" r="5.6" fill="#d6ebfa" stroke="#2a6fc8" stroke-width="1.3"/>
<path d="M345 11.5h6" stroke="#3a88b4" stroke-width="1.8"/>
<path d="M348 8.5v6" stroke="#3a88b4" stroke-width="1.8"/>
<path d="M380.5 15.5l4.4 4.1" stroke="#9a7410" stroke-width="3.2" stroke-linecap="round"/><path d="M380.5 15.5l4.4 4.1" stroke="#e6c230" stroke-width="1.9" stroke-linecap="round"/>
<circle cx="376.2" cy="11.3" r="5.6" fill="#d6ebfa" stroke="#2a6fc8" stroke-width="1.3"/>
<path d="M373.2 11.3h6" stroke="#3a88b4" stroke-width="1.8"/>
<rect x="398" y="5.2" width="7.6" height="7.6" fill="#3a9e1e"/><rect x="399" y="8.1" width="5.6" height="4" fill="#fff"/><rect x="400" y="9.5" width="3.6" height="1" fill="#3a9e1e" opacity=".55"/><rect x="399" y="6.4" width="1" height="1" fill="#fff"/>
<rect x="406.2" y="5.2" width="7.6" height="7.6" fill="#2456c8"/><rect x="407.2" y="8.1" width="5.6" height="4" fill="#fff"/><rect x="408.2" y="9.5" width="3.6" height="1" fill="#2456c8" opacity=".55"/><rect x="407.2" y="6.4" width="1" height="1" fill="#fff"/>
<rect x="398" y="13.2" width="7.6" height="7.6" fill="#2456c8"/><rect x="399" y="16.1" width="5.6" height="4" fill="#fff"/><rect x="400" y="17.5" width="3.6" height="1" fill="#2456c8" opacity=".55"/><rect x="399" y="14.4" width="1" height="1" fill="#fff"/>
<rect x="406.2" y="13.2" width="7.6" height="7.6" fill="#3a9e1e"/><rect x="407.2" y="16.1" width="5.6" height="4" fill="#fff"/><rect x="408.2" y="17.5" width="3.6" height="1" fill="#3a9e1e" opacity=".55"/><rect x="407.2" y="14.4" width="1" height="1" fill="#fff"/>
<rect x="423" y="2" width="1" height="21" fill="#a0a0a0" shape-rendering="crispEdges"/>
<g shape-rendering="crispEdges"><rect x="428" y="1" width="25" height="22" fill="#f8f8f8"/><rect x="428" y="1" width="25" height="1" fill="#a0a0a0"/><rect x="428" y="1" width="1" height="22" fill="#a0a0a0"/><rect x="428" y="22" width="25" height="1" fill="#fff"/><rect x="452" y="1" width="1" height="22" fill="#fff"/></g>
<g stroke="#585858" stroke-width="1.05" fill="none"><path d="M436.5 21V7.6M433.5 18.5H447.5"/></g>
<path d="M436.5 6.9l-1.8 2.6h3.6zM448 18.5l-2.6-1.8v3.6z" fill="#585858"/>
<path d="M441 8.8v7.2l4.4-3.6z" fill="#38dc38" stroke="#149414" stroke-width="1" stroke-linejoin="round"/>
<g shape-rendering="crispEdges"><rect x="456" y="1" width="25" height="22" fill="#f8f8f8"/><rect x="456" y="1" width="25" height="1" fill="#a0a0a0"/><rect x="456" y="1" width="1" height="22" fill="#a0a0a0"/><rect x="456" y="22" width="25" height="1" fill="#fff"/><rect x="480" y="1" width="1" height="22" fill="#fff"/></g>
<g stroke="#585858" stroke-width="1.05" fill="none"><path d="M464.5 21V7.6M461.5 18.5H475.5"/></g>
<path d="M464.5 6.9l-1.8 2.6h3.6zM476 18.5l-2.6-1.8v3.6z" fill="#585858"/>
<path d="M470.5 7v9.6" stroke="#1a72b0" stroke-width="1.4"/><path d="M471.2 12.3l3-2.4v1.6h2v1.6h-2v1.6z" fill="#e2520e"/>
<rect x="485" y="2" width="1" height="21" fill="#a0a0a0" shape-rendering="crispEdges"/>
<path d="M495.5 5.5h8l3 3v10h-11z" fill="#fff" stroke="#8c8c8c" stroke-width="1"/><path d="M503.5 5.5v3h3" fill="#e8e8e8" stroke="#8c8c8c" stroke-width="1"/><path d="M500.5 7.5c-1.5 0-1.8.8-1.8 2v5c0 1.2-.4 1.8-1.4 1.8M497.3 11h3" fill="none" stroke="#5a5040" stroke-width="1"/>
<path d="M503.5 12h3v4h4v3h-4v3.5h-3v-3.5h-4v-3h4z" fill="url(#pl)" stroke="#0a860a" stroke-width="1"/>
<polygon points="517,12 522.6,12 519.8,15.2" fill="#000"/>
<defs><linearGradient id="ck" x1="0" y1="0" x2="0" y2="1"><stop offset="0" stop-color="#4a9cf0"/><stop offset="1" stop-color="#0a4fb0"/></linearGradient></defs>
<circle cx="541" cy="13" r="7.8" fill="url(#ck)"/><circle cx="541" cy="13" r="5.1" fill="#f4f6f8"/><path d="M540.6 9.3v3.9h3.4" fill="none" stroke="#303030" stroke-width="1.2"/>
<polygon points="556,12 561.6,12 558.8,15.2" fill="#000"/>
<rect x="572.5" y="6.5" width="15" height="13" fill="#fff" stroke="#3a78c8" stroke-width="1"/><rect x="572" y="6" width="16" height="2.6" fill="#4a8fe0"/><path d="M573 14.3h14" stroke="#3a78c8" stroke-width="1"/><path d="M574 12.2h2l1.5-1.2h2l1.5-1h2l1.5.9h1.5" fill="none" stroke="#b4280a" stroke-width="1.3"/><path d="M574.5 17.6h2l1.5-1h2l2-1.4l2 1.8h1" fill="none" stroke="#1e9a1e" stroke-width="1.3"/>
<polygon points="594.6,12 600.2,12 597.4,15.2" fill="#000"/>
<rect x="606" y="0" width="1" height="24" fill="#a0a0a0" shape-rendering="crispEdges"/><rect x="607" y="0" width="1" height="24" fill="#fff" shape-rendering="crispEdges"/>
<rect x="610" y="3" width="3" height="1" fill="#a8a8a8" shape-rendering="crispEdges"/>
<rect x="610" y="5" width="3" height="1" fill="#a8a8a8" shape-rendering="crispEdges"/>
<rect x="610" y="7" width="3" height="1" fill="#a8a8a8" shape-rendering="crispEdges"/>
<rect x="610" y="9" width="3" height="1" fill="#a8a8a8" shape-rendering="crispEdges"/>
<rect x="610" y="11" width="3" height="1" fill="#a8a8a8" shape-rendering="crispEdges"/>
<rect x="610" y="13" width="3" height="1" fill="#a8a8a8" shape-rendering="crispEdges"/>
<rect x="610" y="15" width="3" height="1" fill="#a8a8a8" shape-rendering="crispEdges"/>
<rect x="610" y="17" width="3" height="1" fill="#a8a8a8" shape-rendering="crispEdges"/>
<rect x="610" y="19" width="3" height="1" fill="#a8a8a8" shape-rendering="crispEdges"/>
<rect x="610" y="21" width="3" height="1" fill="#a8a8a8" shape-rendering="crispEdges"/>
<g shape-rendering="crispEdges"><rect x="616" y="1" width="25" height="22" fill="#f8f8f8"/><rect x="616" y="1" width="25" height="1" fill="#a0a0a0"/><rect x="616" y="1" width="1" height="22" fill="#a0a0a0"/><rect x="616" y="22" width="25" height="1" fill="#fff"/><rect x="640" y="1" width="1" height="22" fill="#fff"/></g>
<path d="M624 5.8v11.6l2.7-2.4l2.4 5.2l1.9-.9l-2.4-5.1h3.6z" fill="#505050"/>
<path d="M648.8 13.5h6.6M657.4 13.5h6.6M656.4 6v6.4M656.4 14.6v6.3" stroke="#505050" stroke-width="1.3"/>
<rect x="673" y="2" width="1" height="21" fill="#a0a0a0" shape-rendering="crispEdges"/>
<path d="M690.4 7v13M712.7 13.5h12.3M740.8 20L753 7.7" stroke="#505050" stroke-width="1.3"/>
<g stroke="#484848" fill="none"><path d="M766.5 14.3L774.7 6.8M772 19.5L781.2 11.4" stroke-width="1" stroke-dasharray="1,.6"/><path d="M768 19L769.8 12.7L772 16L775.3 9.8L776.5 13.6L778.6 5.2L779.6 11.7" stroke-width="1.4" stroke-linejoin="round"/></g>
<text x="777.7" y="22.1" font-size="7.2" font-weight="bold" fill="#3c3c3c">E</text>
<rect x="796" y="6" width="1" height="1" fill="#484848"/>
<rect x="798" y="6" width="1" height="1" fill="#484848"/>
<rect x="800" y="6" width="1" height="1" fill="#484848"/>
<rect x="802" y="6" width="1" height="1" fill="#484848"/>
<rect x="804" y="6" width="1" height="1" fill="#484848"/>
<rect x="806" y="6" width="1" height="1" fill="#484848"/>
<rect x="808" y="6" width="1" height="1" fill="#484848"/>
<rect x="796" y="9" width="1" height="1" fill="#484848"/>
<rect x="798" y="9" width="1" height="1" fill="#484848"/>
<rect x="800" y="9" width="1" height="1" fill="#484848"/>
<rect x="802" y="9" width="1" height="1" fill="#484848"/>
<rect x="804" y="9" width="1" height="1" fill="#484848"/>
<rect x="806" y="9" width="1" height="1" fill="#484848"/>
<rect x="808" y="9" width="1" height="1" fill="#484848"/>
<rect x="796" y="13" width="1" height="1" fill="#484848"/>
<rect x="798" y="13" width="1" height="1" fill="#484848"/>
<rect x="800" y="13" width="1" height="1" fill="#484848"/>
<rect x="802" y="13" width="1" height="1" fill="#484848"/>
<rect x="804" y="13" width="1" height="1" fill="#484848"/>
<rect x="806" y="13" width="1" height="1" fill="#484848"/>
<rect x="808" y="13" width="1" height="1" fill="#484848"/>
<rect x="796" y="17.1" width="1" height="1" fill="#484848"/>
<rect x="798" y="17.1" width="1" height="1" fill="#484848"/>
<rect x="800" y="17.1" width="1" height="1" fill="#484848"/>
<rect x="802" y="17.1" width="1" height="1" fill="#484848"/>
<rect x="804" y="17.1" width="1" height="1" fill="#484848"/>
<text x="805.7" y="22.1" font-size="7.2" font-weight="bold" fill="#3c3c3c">F</text>
<text x="826.6" y="18" font-size="12.2" fill="#484848" stroke="#484848" stroke-width=".3" textLength="7.8" lengthAdjust="spacingAndGlyphs">A</text>
<rect x="855" y="7" width="1" height="1" fill="#484848"/><rect x="853" y="19" width="1" height="1" fill="#484848"/>
<rect x="857" y="7" width="1" height="1" fill="#484848"/><rect x="855" y="19" width="1" height="1" fill="#484848"/>
<rect x="859" y="7" width="1" height="1" fill="#484848"/><rect x="857" y="19" width="1" height="1" fill="#484848"/>
<rect x="861" y="7" width="1" height="1" fill="#484848"/><rect x="859" y="19" width="1" height="1" fill="#484848"/>
<rect x="863" y="7" width="1" height="1" fill="#484848"/><rect x="861" y="19" width="1" height="1" fill="#484848"/>
<rect x="865" y="7" width="1" height="1" fill="#484848"/><rect x="863" y="19" width="1" height="1" fill="#484848"/>
<rect x="853" y="9" width="1" height="1" fill="#484848"/><rect x="864" y="7" width="1" height="1" fill="#484848"/>
<rect x="853" y="11" width="1" height="1" fill="#484848"/><rect x="864" y="9" width="1" height="1" fill="#484848"/>
<rect x="853" y="13" width="1" height="1" fill="#484848"/><rect x="864" y="11" width="1" height="1" fill="#484848"/>
<rect x="853" y="15" width="1" height="1" fill="#484848"/><rect x="864" y="13" width="1" height="1" fill="#484848"/>
<rect x="853" y="17" width="1" height="1" fill="#484848"/><rect x="864" y="15" width="1" height="1" fill="#484848"/>
<rect x="853" y="19" width="1" height="1" fill="#484848"/><rect x="864" y="17" width="1" height="1" fill="#484848"/>
<rect x="852" y="6.2" width="2.6" height="1.5" fill="#484848"/>
<path d="M855.2 10.5h7.8" stroke="#505050" stroke-width="1.3"/><path d="M859.1 10.5v7.4" stroke="#505050" stroke-width="1.9"/>
<path d="M883.3 7l3.6 3.8h-1.6v1h-4v-1h-1.6zM890.6 19.9l3.6-3.8h-1.6v-1h-4v1h-1.6z" fill="#505050"/><path d="M882.1 14.4l2.3 2.2l4.3-5.4" fill="none" stroke="#505050" stroke-width="1.3"/>
<polygon points="900.8,12 906.4,12 903.6,15.2" fill="#000"/>
<rect x="912" y="0" width="1" height="24" fill="#a0a0a0" shape-rendering="crispEdges"/><rect x="913" y="0" width="1" height="24" fill="#fff" shape-rendering="crispEdges"/>
<rect x="916" y="3" width="3" height="1" fill="#a8a8a8" shape-rendering="crispEdges"/>
<rect x="916" y="5" width="3" height="1" fill="#a8a8a8" shape-rendering="crispEdges"/>
<rect x="916" y="7" width="3" height="1" fill="#a8a8a8" shape-rendering="crispEdges"/>
<rect x="916" y="9" width="3" height="1" fill="#a8a8a8" shape-rendering="crispEdges"/>
<rect x="916" y="11" width="3" height="1" fill="#a8a8a8" shape-rendering="crispEdges"/>
<rect x="916" y="13" width="3" height="1" fill="#a8a8a8" shape-rendering="crispEdges"/>
<rect x="916" y="15" width="3" height="1" fill="#a8a8a8" shape-rendering="crispEdges"/>
<rect x="916" y="17" width="3" height="1" fill="#a8a8a8" shape-rendering="crispEdges"/>
<rect x="916" y="19" width="3" height="1" fill="#a8a8a8" shape-rendering="crispEdges"/>
<rect x="916" y="21" width="3" height="1" fill="#a8a8a8" shape-rendering="crispEdges"/>
<text x="927.7" y="17.1" class="p" textLength="12.3" lengthAdjust="spacingAndGlyphs">M1</text>
<text x="955.8" y="17.1" class="p" textLength="12.3" lengthAdjust="spacingAndGlyphs">M5</text>
<text x="981.8" y="17.1" class="p" textLength="17.4" lengthAdjust="spacingAndGlyphs">M15</text>
<text x="1009.6" y="17.1" class="p" textLength="17.4" lengthAdjust="spacingAndGlyphs">M30</text>
<text x="1040.8" y="17.1" class="p" textLength="11.2" lengthAdjust="spacingAndGlyphs">H1</text>
<g shape-rendering="crispEdges"><rect x="1062" y="1" width="25" height="22" fill="#f8f8f8"/><rect x="1062" y="1" width="25" height="1" fill="#a0a0a0"/><rect x="1062" y="1" width="1" height="22" fill="#a0a0a0"/><rect x="1062" y="22" width="25" height="1" fill="#fff"/><rect x="1086" y="1" width="1" height="22" fill="#fff"/></g>
<text x="1067.7" y="17.1" class="p" textLength="11.9" lengthAdjust="spacingAndGlyphs">H4</text>
<text x="1096.5" y="17.1" class="p" textLength="11.5" lengthAdjust="spacingAndGlyphs">D1</text>
<text x="1124.2" y="17.1" class="p" textLength="13.8" lengthAdjust="spacingAndGlyphs">W1</text>
<text x="1150.8" y="17.1" class="p" textLength="14.2" lengthAdjust="spacingAndGlyphs">MN</text>
<rect x="1173" y="0" width="1" height="24" fill="#a0a0a0" shape-rendering="crispEdges"/><rect x="1174" y="0" width="1" height="24" fill="#fff" shape-rendering="crispEdges"/>
<path d="M1640.3 13.7l-4.3 4.1" stroke="#1a50c8" stroke-width="2.6" stroke-linecap="round"/><circle cx="1643.5" cy="10.5" r="3.9" fill="#fff" stroke="#2a62d6" stroke-width="1.5"/>
<path d="M1660.5 15.5a5 4.2 0 0 1 10 0a5 4.2 0 0 1-6 4.1l-1.6 1.8l.1-2.4a5 4.2 0 0 1-2.5-3.5z" fill="#e4e6ee" stroke="#b8b8b8" stroke-width=".8"/>
<defs><linearGradient id="bd" x1="0" y1="0" x2="0" y2="1"><stop offset="0" stop-color="#ec5a3a"/><stop offset="1" stop-color="#d6200c"/></linearGradient></defs>
<circle cx="1674.5" cy="10.3" r="8.3" fill="url(#bd)"/><path d="M1671.3 8.3l2.6-2.2h1.4v8.3h1.9v1h-5.6v-1h2v-6.4l-2.3 1.4z" fill="#fff"/>
</svg>
</body></html>
